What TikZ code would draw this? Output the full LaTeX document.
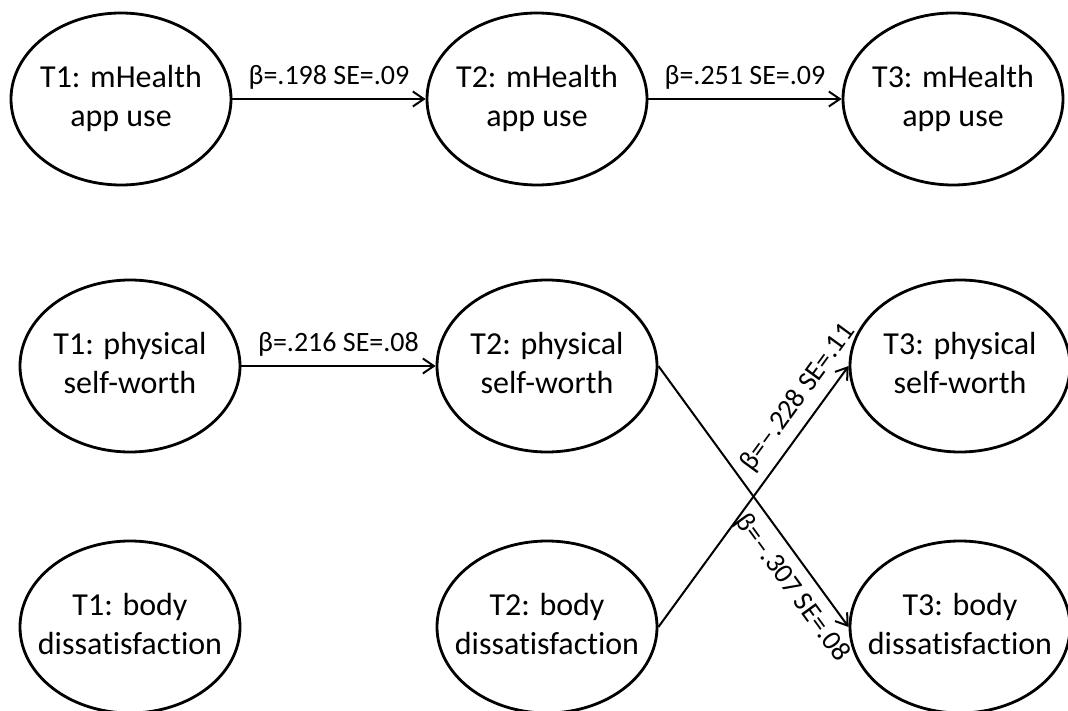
\documentclass[tikz,border=0pt]{standalone}
\usepackage{fontspec}
\setmainfont{Carlito}[Ligatures={NoCommon}]
\usetikzlibrary{arrows.meta,shapes.geometric}
\newcommand\twol[2]{\makebox[0pt]{\begin{tabular}{@{}c@{}}#1\\#2\end{tabular}}}
\begin{document}
\begin{tikzpicture}[x=1pt,y=-1pt,
  var/.style={draw, line width=2.8pt, ellipse, minimum width=220pt, minimum height=172pt, inner sep=0pt, font=\fontsize{32}{39}\selectfont},
  arr/.style={line width=2pt, -{Straight Barb[length=11pt,width=15pt,line width=2pt]}},
  lab/.style={font=\fontsize{28}{34}\selectfont, inner sep=0pt}]
\useasboundingbox (0,0) rectangle (1068,711);
\fill[white] (0,0) rectangle (1068,711);
\node[var] (m1) at (121,99) {\twol{T1: mHealth}{app use}};
\node[var] (m2) at (537,99) {\twol{T2: mHealth}{app use}};
\node[var] (m3) at (953,99) {\twol{T3: mHealth}{app use}};
\node[var] (p1) at (130,366) {\twol{T1: physical}{self-worth}};
\node[var] (p2) at (547,366) {\twol{T2: physical}{self-worth}};
\node[var] (p3) at (960,366) {\twol{T3: physical}{self-worth}};
\node[var] (b1) at (130,627) {\twol{T1: body}{dissatisfaction}};
\node[var] (b2) at (547,627) {\twol{T2: body}{dissatisfaction}};
\node[var] (b3) at (960,627) {\twol{T3: body}{dissatisfaction}};
\draw[arr] (m1.east) -- node[lab, above=9pt] {β=.198 SE=.09} (m2.west);
\draw[arr] (m2.east) -- node[lab, above=9pt] {β=.251 SE=.09} (m3.west);
\draw[arr] (p1.east) -- node[lab, above=9pt] {β=.216 SE=.08} (p2.west);
\draw[arr] (p2.east) -- node[lab, sloped, pos=0.8, below=10pt] {β=–.307 SE=.08} (b3.west);
\draw[arr] (b2.east) -- node[lab, sloped, pos=0.83, above=9pt] {β=–.228 SE=.11} (p3.west);
\end{tikzpicture}
\end{document}
